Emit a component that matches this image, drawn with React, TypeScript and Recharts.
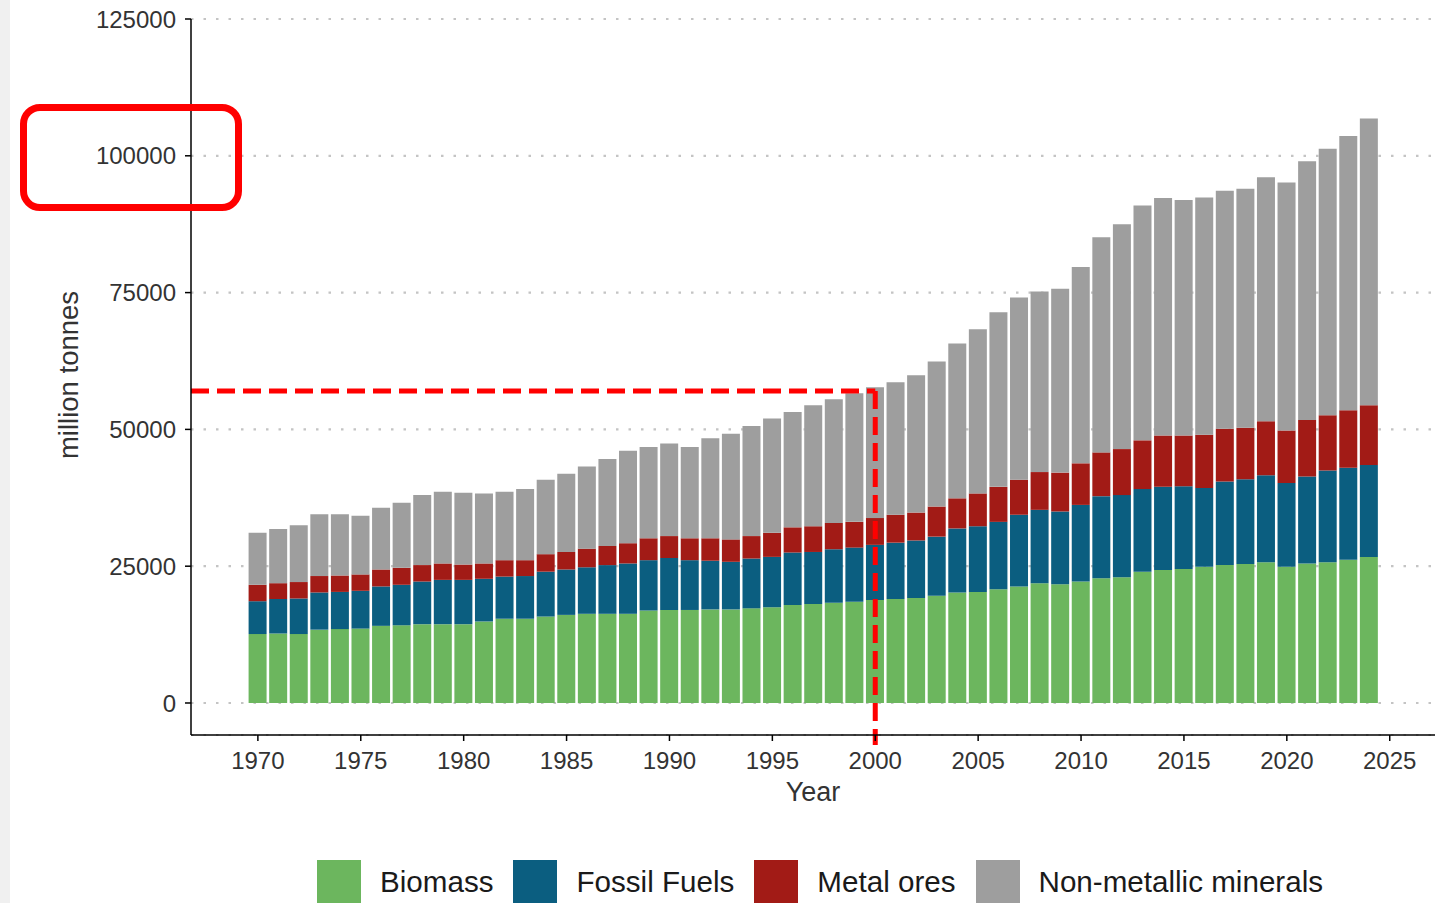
import { BarChart, Bar, XAxis, YAxis, CartesianGrid, ReferenceLine } from "recharts";

// million tonnes
const years = [
    1970, 1971, 1972, 1973, 1974, 1975, 1976, 1977, 1978, 1979,
    1980, 1981, 1982, 1983, 1984, 1985, 1986, 1987, 1988, 1989,
    1990, 1991, 1992, 1993, 1994, 1995, 1996, 1997, 1998, 1999,
    2000, 2001, 2002, 2003, 2004, 2005, 2006, 2007, 2008, 2009,
    2010, 2011, 2012, 2013, 2014, 2015, 2016, 2017, 2018, 2019,
    2020, 2021, 2022, 2023, 2024,
];
const biomass = [
    12600, 12700, 12600, 13400, 13500, 13600, 14100, 14200, 14400, 14400,
    14400, 14900, 15400, 15400, 15800, 16100, 16300, 16300, 16300, 16900,
    17000, 17000, 17100, 17100, 17300, 17500, 17900, 18100, 18300, 18500,
    18800, 19000, 19200, 19600, 20200, 20300, 20800, 21300, 21900, 21700,
    22200, 22800, 23000, 24000, 24300, 24500, 24900, 25200, 25400, 25700,
    24900, 25500, 25700, 26200, 26700,
];
const fossilFuels = [
    6000, 6300, 6500, 6800, 6800, 6900, 7200, 7400, 7800, 8100,
    8100, 7800, 7700, 7800, 8200, 8300, 8500, 8900, 9200, 9200,
    9500, 9100, 8900, 8700, 9100, 9200, 9600, 9500, 9800, 9900,
    10100, 10300, 10500, 10800, 11700, 12000, 12300, 13100, 13400, 13300,
    14000, 15000, 15000, 15100, 15200, 15100, 14400, 15300, 15500, 15900,
    15300, 15900, 16800, 16800, 16800,
];
const metalOres = [
    3000, 2900, 3000, 3000, 3000, 3000, 3100, 3100, 3000, 3000,
    2800, 2800, 3000, 2900, 3200, 3200, 3400, 3500, 3700, 4000,
    4000, 4000, 4100, 4100, 4100, 4400, 4600, 4700, 4800, 4700,
    4900, 5100, 5100, 5500, 5500, 6000, 6400, 6400, 6900, 7100,
    7600, 8000, 8400, 8900, 9400, 9300, 9700, 9600, 9400, 9900,
    9600, 10300, 10100, 10500, 10900,
];
const nonMetallic = [
    9500, 9900, 10400, 11300, 11200, 10700, 11300, 11900, 12800, 13100,
    13100, 12800, 12500, 13000, 13600, 14300, 15000, 15900, 16900, 16700,
    16900, 16700, 18300, 19300, 20100, 20900, 21100, 22100, 22600, 23500,
    23900, 24200, 25100, 26500, 28300, 30000, 31900, 33300, 33000, 33600,
    35900, 39300, 41100, 42900, 43400, 43000, 43400, 43500, 43700, 44600,
    45300, 47300, 48700, 50100, 52400,
];

const yTicks = [0, 25000, 50000, 75000, 100000, 125000];
const xTicks = [1970, 1975, 1980, 1985, 1990, 1995, 2000, 2005, 2010, 2015, 2020, 2025];

const series = [
    { key: "biomass", name: "Biomass", color: "#6cb65e" },
    { key: "fossilFuels", name: "Fossil Fuels", color: "#0b5e80" },
    { key: "metalOres", name: "Metal ores", color: "#a21b16" },
    { key: "nonMetallic", name: "Non-metallic minerals", color: "#9e9e9e" },
];

// annotation drawn on the picture
const markYear = 2000;
const markValue = 57000;

const data = years.map((year, i) => ({
    year,
    biomass: biomass[i],
    fossilFuels: fossilFuels[i],
    metalOres: metalOres[i],
    nonMetallic: nonMetallic[i],
}));

const font = "'Liberation Sans', Arial, sans-serif";
const tickStyle = { fill: "#333", fontSize: 24, fontFamily: font };

export default function App() {
    return (
        <div style={{ position: "absolute", left: 0, top: 0, width: 1450, height: 903, background: "#fff", overflow: "hidden", fontFamily: font }}>
            <div style={{ position: "absolute", left: 0, top: 0, width: 10, height: 903, background: "#f0f0f0" }} />
            <BarChart
                width={1450}
                height={903}
                data={data}
                margin={{ top: 19, right: 15, bottom: 98, left: 0 }}
                barSize={18}
            >
                <CartesianGrid vertical={false} stroke="#c4c4c4" strokeWidth={2.2} strokeDasharray="2.5 10" />
                <XAxis
                    dataKey="year"
                    type="number"
                    domain={[1966.75, 2027.2]}
                    ticks={xTicks}
                    height={70}
                    tick={tickStyle}
                    tickSize={6}
                    tickMargin={11}
                    axisLine={{ stroke: "#000", strokeWidth: 1.5 }}
                    tickLine={{ stroke: "#000", strokeWidth: 1.5 }}
                />
                <YAxis
                    type="number"
                    domain={[-5850, 125000]}
                    ticks={yTicks}
                    width={191}
                    tick={tickStyle}
                    tickSize={6}
                    tickMargin={9}
                    axisLine={{ stroke: "#000", strokeWidth: 1.5 }}
                    tickLine={{ stroke: "#000", strokeWidth: 1.5 }}
                />
                {series.map(s => (
                    <Bar key={s.key} dataKey={s.key} name={s.name} stackId="a" fill={s.color} isAnimationActive={false} />
                ))}
                <ReferenceLine
                    segment={[{ x: 1966.75, y: markValue }, { x: markYear, y: markValue }]}
                    stroke="#f00"
                    strokeWidth={5}
                    strokeDasharray="18 8"
                    ifOverflow="visible"
                />
                <ReferenceLine
                    segment={[{ x: markYear, y: markValue }, { x: markYear, y: -7700 }]}
                    stroke="#f00"
                    strokeWidth={5}
                    strokeDasharray="18 8"
                    ifOverflow="visible"
                />
                <text x={68} y={375} transform="rotate(-90, 68, 375)" textAnchor="middle" dominantBaseline="central" fill="#333" fontSize={27.5} fontFamily={font}>
                    million tonnes
                </text>
                <text x={813} y={792} textAnchor="middle" dominantBaseline="central" fill="#333" fontSize={27} fontFamily={font}>
                    Year
                </text>
            </BarChart>
            <div style={{ position: "absolute", left: 20, top: 104, width: 222, height: 107, border: "7px solid #f00", borderRadius: 20, boxSizing: "border-box" }} />
            <div style={{ position: "absolute", left: 317, top: 860, display: "flex", alignItems: "center", gap: 20 }}>
                {series.map(s => (
                    <div key={s.key} style={{ display: "flex", alignItems: "center", gap: 19 }}>
                        <div style={{ width: 44, height: 44, background: s.color }} />
                        <span style={{ fontSize: 29.6, color: "#1a1a1a" }}>{s.name}</span>
                    </div>
                ))}
            </div>
        </div>
    );
}
